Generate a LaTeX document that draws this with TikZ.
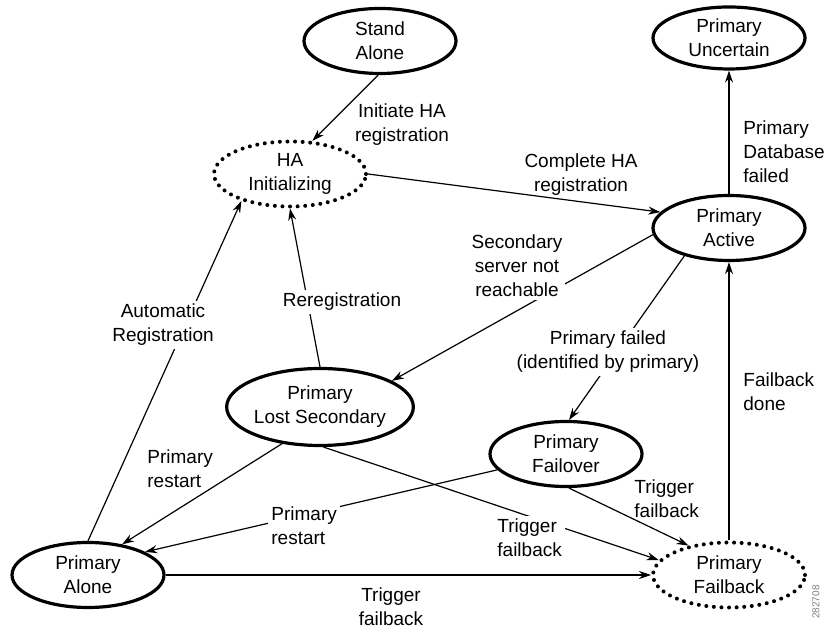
\documentclass[tikz,border=0pt]{standalone}
\usepackage{fontspec}
\setmainfont{Liberation Sans}
\usetikzlibrary{arrows.meta}
\usetikzlibrary{shapes.geometric}

\begin{document}
\begin{tikzpicture}[x=0.5pt, y=0.5pt,
  txt/.style={font=\fontsize{9.5}{12}\selectfont},
  stnode/.style={txt, ellipse, draw, line width=1.6pt, align=center, inner sep=0pt, minimum width=76pt, minimum height=32.5pt},
  dstnode/.style={stnode, line width=2pt, dash pattern=on 0pt off 3.8pt, line cap=round},
  lbl/.style={txt, inner sep=1.5pt},
  trans/.style={line width=0.6pt, -{Stealth[length=6pt, width=4pt]}}]

% Frame
\useasboundingbox (0,0) rectangle (828,630);

% States
\node[stnode] (sa) at (380,589) {Stand\\Alone};
\node[dstnode] (ha) at (290,456) {HA\\Initializing};
\node[stnode, minimum height=31pt] (pu) at (729,592) {Primary\\Uncertain};
\node[stnode] (pa) at (729,402) {Primary\\Active};
\node[stnode, minimum width=91.5pt, minimum height=38.5pt] (pl) at (320,223) {Primary\\Lost Secondary};
\node[stnode] (pf) at (566,176) {Primary\\Failover};
\node[stnode] (pal) at (88,55) {Primary\\Alone};
\node[dstnode] (pb) at (729,55) {Primary\\Failback};

% Transitions
\draw[trans] (sa.-93) -- (ha.56);
\draw[trans] (ha.east) -- (pa.167);
\draw[trans] (pa.north) -- (pu.south);
\draw[trans] (pa.185) -- (pl.20);
\draw[trans] (pa.-148) -- (pf.85);
\draw[trans] (pl.north) -- (ha.south);
\draw[trans] (pal.north) -- (ha.-151);
\draw[trans] (pl.-136) -- (pal.42);
\draw[trans] (pf.-167) -- (pal.22);
\draw[trans] (pl.-85) -- (pb.168);
\draw[trans] (pf.-85) -- (pb.144);
\draw[trans] (pal.east) -- (pb.west);
\draw[trans] (pb.north) -- (pa.south);

% Labels
\node[lbl, align=center] (lini) at (402,505) {Initiate HA\\registration};
\node[lbl, align=center] (lcom) at (581,455) {Complete HA\\registration};
\node[lbl, align=left, anchor=west] (ldb) at (740,478) {Primary\\Database\\failed};
\node[lbl, align=center, fill=white] (lsec) at (517,364) {Secondary\\server not\\reachable};
\node[lbl, align=center, fill=white] (lpf) at (608,278) {Primary failed\\(identified by primary)};
\node[lbl, fill=white] (lrr) at (342,328) {Reregistration};
\node[lbl, align=center, fill=white] (laut) at (163,305) {Automatic\\Registration};
\node[lbl, align=left, anchor=west] (lrs1) at (144,161) {Primary\\restart};
\node[lbl, align=left, anchor=west, fill=white] (lrs2) at (268,104) {Primary\\restart};
\node[lbl, align=left, anchor=west, fill=white] (ltf1) at (494,92) {Trigger\\failback};
\node[lbl, align=left, anchor=west] (ltf2) at (631,131) {Trigger\\failback};
\node[lbl, align=center] (ltf3) at (391,23) {Trigger\\failback};
\node[lbl, align=left, anchor=west] (ldn) at (740,238) {Failback\\done};

% Figure number
\node[rotate=90, font=\fontsize{5}{6}\selectfont, text=gray] (fid) at (816,28) {282708};

\end{tikzpicture}
\end{document}
